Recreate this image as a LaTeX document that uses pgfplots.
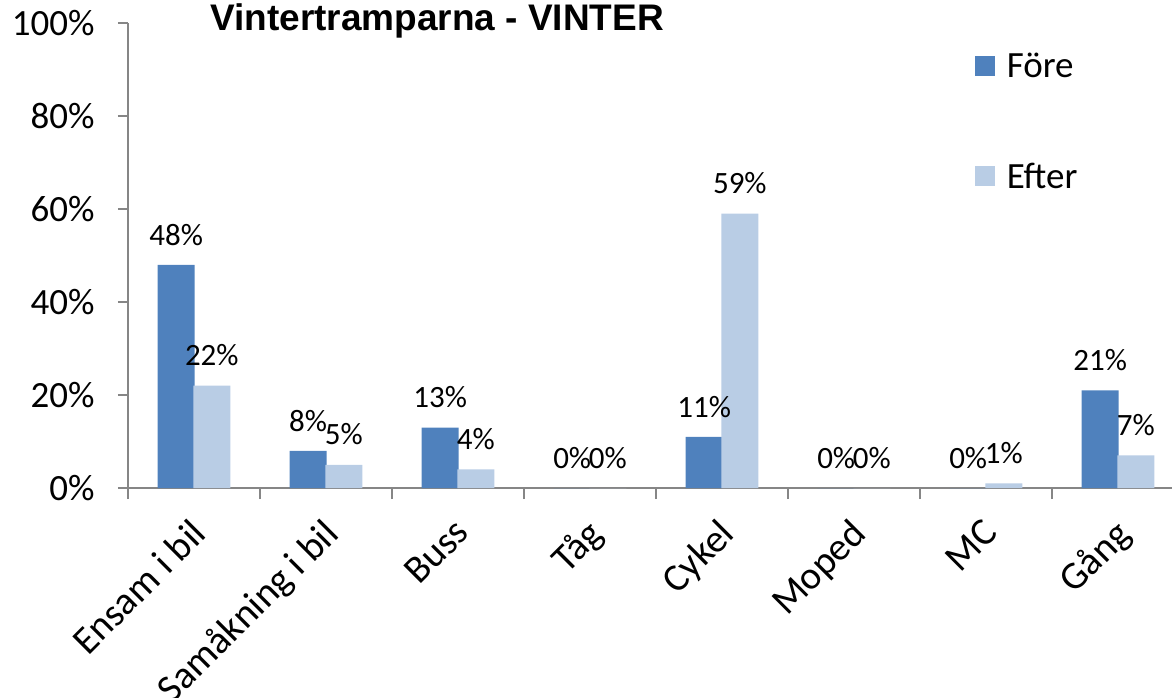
\documentclass[border=0pt]{standalone}
\usepackage{pgfplots}
\pgfplotsset{compat=1.18}
\usepackage{fontspec}
\setmainfont{Carlito}
\newfontfamily\titlefont{Liberation Sans}
\definecolor{fore}{HTML}{4F81BD}
\definecolor{efter}{HTML}{B9CDE5}
\definecolor{axgray}{HTML}{868686}
\begin{document}
\begin{tikzpicture}
\begin{axis}[
  name=ax,
  scale only axis, width=1044pt, height=465pt,
  xmin=-0.5, xmax=7.409, ymin=0, ymax=100,
  axis x line=bottom, axis y line=left,
  axis line style={axgray, line width=1.1pt, -},
  /pgf/number format/assume math mode=true,
  ytick={0,20,...,100},
  yticklabel={\pgfmathprintnumber{\tick}\%},
  yticklabel style={font=\fontsize{37}{37}\selectfont, xshift=-20pt},
  xtick={0,...,7},
  xticklabels={Ensam i bil, Samåkning i bil, Buss, Tåg, Cykel, Moped, MC, Gång},
  minor xtick={-0.5,0.5,...,6.5},
  tick align=outside,
  major tick length=10pt, minor tick length=11pt,
  tick style={axgray, line width=1.1pt},
  major x tick style={draw=none},
  xticklabel style={xshift=-5pt, yshift=-14pt, rotate=45, anchor=north east, font=\fontsize{39}{39}\selectfont},
  ybar, bar width=0.28,
  nodes near coords={\pgfmathprintnumber{\pgfplotspointmeta}\%},
  every node near coord/.append style={font=\fontsize{31}{31}\selectfont, black, yshift=16pt},
  legend style={draw=none, fill=none, at={(0.808,0.945)}, anchor=north west,
    font=\fontsize{37}{37}\selectfont, row sep=80pt},
  legend cell align=left,
]
\addplot[fill=fore, draw=none, bar shift=-0.135,
  legend image code/.code={\fill[fore] (0pt,-10pt) rectangle (20pt,10pt); \path (30pt,0pt);}]
  coordinates {(0,48) (1,8) (2,13) (3,0) (4,11) (5,0) (6,0) (7,21)};
\addlegendentry{Före}
\addplot[fill=efter, draw=none, bar shift=0.135,
  legend image code/.code={\fill[efter] (0pt,-10pt) rectangle (20pt,10pt); \path (30pt,0pt);}]
  coordinates {(0,22) (1,5) (2,4) (3,0) (4,59) (5,0) (6,1) (7,7)};
\addlegendentry{Efter}
\end{axis}
\node[anchor=base west, font=\titlefont\bfseries\fontsize{37}{37}\selectfont, inner sep=0pt]
  at ([xshift=82pt, yshift=-8pt]ax.north west) {Vintertramparna - VINTER};
\pgfresetboundingbox
\path[use as bounding box] (ax.south west) ++(-128pt,-209pt) rectangle ++(1172pt,697pt);
\end{tikzpicture}
\end{document}
